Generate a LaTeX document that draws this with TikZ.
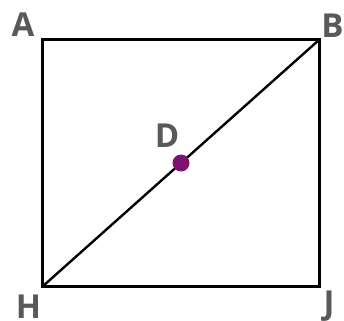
\documentclass[tikz,border=0pt]{standalone}
\usepackage{fontspec}
\setmainfont{Open Sans}[BoldFont={* Bold}]
\usetikzlibrary{calc}
\definecolor{lbl}{HTML}{595959}
\definecolor{dotc}{HTML}{7D1271}
\begin{document}
\begin{tikzpicture}[x=1pt,y=-1pt,
  lab/.style={text=lbl,font=\fontsize{33}{33}\selectfont\bfseries,inner sep=0pt},
  edge/.style={draw=black,line width=2.4pt}]
\useasboundingbox (0,0) rectangle (344,320);
\coordinate (A) at (42.5,39.5);
\coordinate (B) at (319.5,39.5);
\coordinate (J) at (319.5,286.5);
\coordinate (H) at (42.5,286.5);
\draw[edge,line join=miter] (A) -- (B) -- (J) -- (H) -- cycle;
\draw[edge] (H) -- (B);
\coordinate (D) at ($(H)!0.5!(B)$);
\fill[dotc] (D) circle (8.5);
\node[lab] (la) at (23,24.5) {A};
\node[lab] (lb) at (332.5,25.5) {B};
\node[lab] (ld) at (167,136) {D};
\node[lab] (lh) at (28.5,306.5) {H};
\node[lab] (lj) at (329,306.5) {J};
\end{tikzpicture}
\end{document}
